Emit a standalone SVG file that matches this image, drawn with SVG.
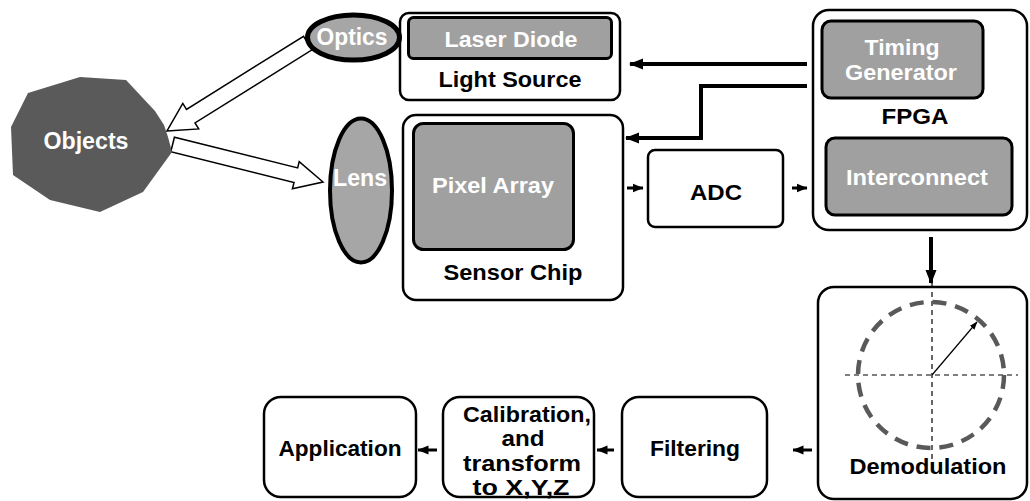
<svg xmlns="http://www.w3.org/2000/svg" width="1030" height="501" viewBox="0 0 1030 501">
  <style>
    .box { fill: #ffffff; stroke: #000000; stroke-width: 2.5; }
    .inner { fill: #a0a0a0; stroke: #000000; stroke-width: 3; }
    .lbl { font-family: "Liberation Sans", Arial, Helvetica, sans-serif; font-weight: bold; font-size: 22px; text-anchor: middle; fill: #000000; }
    .big { font-size: 23px; }
    .wlbl { fill: #ffffff; }
    .wire { fill: none; stroke: #000000; stroke-width: 4; }
    .short { fill: none; stroke: #000000; stroke-width: 3; }
    .hollow { fill: #ffffff; stroke: #000000; stroke-width: 1.5; stroke-linejoin: miter; }
  </style>
  <defs>
    <marker id="headL" markerUnits="userSpaceOnUse" markerWidth="14" markerHeight="12" refX="13" refY="6" orient="auto">
      <path d="M0,0.5 L14,6 L0,11.5 z" fill="#000000"/>
    </marker>
    <marker id="headS" markerUnits="userSpaceOnUse" markerWidth="11" markerHeight="10" refX="10.5" refY="5" orient="auto">
      <path d="M0,0.5 L11,5 L0,9.5 z" fill="#000000"/>
    </marker>
    <marker id="headT" markerUnits="userSpaceOnUse" markerWidth="8" markerHeight="8" refX="7.5" refY="4" orient="auto">
      <path d="M0,1 L8,4 L0,7 z" fill="#000000"/>
    </marker>
  </defs>

  <!-- connectors -->
  <g id="connectors">
    <!-- wide hollow arrows: optics to objects, objects to lens -->
    <polygon class="hollow" transform="translate(167,131) rotate(148)" points="0,0 -28,-15 -28,-8 -166,-8 -166,8 -28,8 -28,15"/>
    <polygon class="hollow" transform="translate(323,182) rotate(14)" points="0,0 -28,-14 -28,-7.5 -155,-7.5 -155,7.5 -28,7.5 -28,14"/>
    <!-- FPGA control lines -->
    <path class="wire" d="M807,64 H630" marker-end="url(#headL)"/>
    <path class="wire" d="M807,86 H701 V138 H626" marker-end="url(#headL)"/>
    <!-- data path -->
    <path class="short" d="M627,188 H643" marker-end="url(#headS)"/>
    <path class="short" d="M792,188 H807" marker-end="url(#headS)"/>
    <path class="wire" d="M931,237 V283" marker-end="url(#headL)"/>
    <path class="short" d="M812,450 H793" marker-end="url(#headS)"/>
    <path class="short" d="M614,450 H597" marker-end="url(#headS)"/>
    <path class="short" d="M437,450 H418" marker-end="url(#headS)"/>
  </g>

  <g id="objects">
    <polygon points="28,93 80,77 126,80 155,111 164,125 168,137 172,152 143,192 100,212 50,200 13,175 11,127" fill="#5a5a5a"/>
    <text class="lbl big wlbl" x="86" y="148.5" textLength="85" lengthAdjust="spacingAndGlyphs">Objects</text>
  </g>

  <g id="light-source">
    <rect class="box" x="400" y="13" width="220" height="87" rx="9"/>
    <rect class="inner" x="408.5" y="17.5" width="203" height="41" rx="5"/>
    <text class="lbl wlbl" x="511" y="46.5" textLength="133" lengthAdjust="spacingAndGlyphs">Laser Diode</text>
    <text class="lbl" x="510" y="87" textLength="143" lengthAdjust="spacingAndGlyphs">Light Source</text>
  </g>

  <g id="optics">
    <ellipse cx="353.5" cy="37.5" rx="46" ry="22.5" fill="#a6a6a6" stroke="#000000" stroke-width="5"/>
    <text class="lbl big wlbl" x="352" y="44.5" textLength="71" lengthAdjust="spacingAndGlyphs">Optics</text>
  </g>

  <g id="lens">
    <ellipse cx="361" cy="190.5" rx="31" ry="72" fill="#a6a6a6" stroke="#000000" stroke-width="4"/>
    <text class="lbl big wlbl" x="360" y="185.5" textLength="54" lengthAdjust="spacingAndGlyphs">Lens</text>
  </g>

  <g id="sensor-chip">
    <rect class="box" x="403" y="115" width="220" height="185" rx="13"/>
    <rect class="inner" x="413.5" y="123.5" width="160" height="126" rx="10"/>
    <text class="lbl wlbl" x="493" y="193" textLength="122" lengthAdjust="spacingAndGlyphs">Pixel Array</text>
    <text class="lbl" x="513" y="280" textLength="139" lengthAdjust="spacingAndGlyphs">Sensor Chip</text>
  </g>

  <g id="adc">
    <rect class="box" x="648" y="150" width="135" height="77" rx="7"/>
    <text class="lbl" x="716" y="200" textLength="52" lengthAdjust="spacingAndGlyphs">ADC</text>
  </g>

  <g id="fpga">
    <rect class="box" x="813" y="10" width="214" height="220" rx="16"/>
    <rect class="inner" x="822" y="21" width="161" height="77" rx="9"/>
    <text class="lbl wlbl" x="902" y="55" textLength="75" lengthAdjust="spacingAndGlyphs">Timing</text>
    <text class="lbl wlbl" x="901" y="80" textLength="112" lengthAdjust="spacingAndGlyphs">Generator</text>
    <text class="lbl" x="915" y="124" textLength="67" lengthAdjust="spacingAndGlyphs">FPGA</text>
    <rect class="inner" x="826" y="138" width="186" height="77" rx="9"/>
    <text class="lbl wlbl" x="917" y="185" textLength="142" lengthAdjust="spacingAndGlyphs">Interconnect</text>
  </g>

  <g id="demodulation">
    <rect class="box" x="818" y="287" width="209" height="212" rx="16"/>
    <path d="M845,375 H1018 M932,283 V462" fill="none" stroke="#000000" stroke-width="1.2" stroke-dasharray="5,4"/>
    <circle cx="931" cy="375" r="73" fill="none" stroke="#595959" stroke-width="4.5" stroke-dasharray="14,9"/>
    <path d="M932,375 L977,322" fill="none" stroke="#000000" stroke-width="1.2" marker-end="url(#headT)"/>
    <text class="lbl" x="928" y="474" textLength="157" lengthAdjust="spacingAndGlyphs">Demodulation</text>
  </g>

  <g id="filtering">
    <rect class="box" x="622" y="397" width="145" height="100" rx="17"/>
    <text class="lbl" x="695" y="456" textLength="90" lengthAdjust="spacingAndGlyphs">Filtering</text>
  </g>

  <g id="calibration">
    <rect class="box" x="443" y="397" width="151" height="100" rx="17"/>
    <text class="lbl" x="527" y="422" textLength="128" lengthAdjust="spacingAndGlyphs">Calibration,</text>
    <text class="lbl" x="523" y="446" textLength="43" lengthAdjust="spacingAndGlyphs">and</text>
    <text class="lbl" x="522" y="471" textLength="118" lengthAdjust="spacingAndGlyphs">transform</text>
    <text class="lbl" x="521" y="495" textLength="97" lengthAdjust="spacingAndGlyphs">to X,Y,Z</text>
  </g>

  <g id="application">
    <rect class="box" x="264" y="397" width="152" height="100" rx="17"/>
    <text class="lbl" x="340" y="456" textLength="123" lengthAdjust="spacingAndGlyphs">Application</text>
  </g>
</svg>
